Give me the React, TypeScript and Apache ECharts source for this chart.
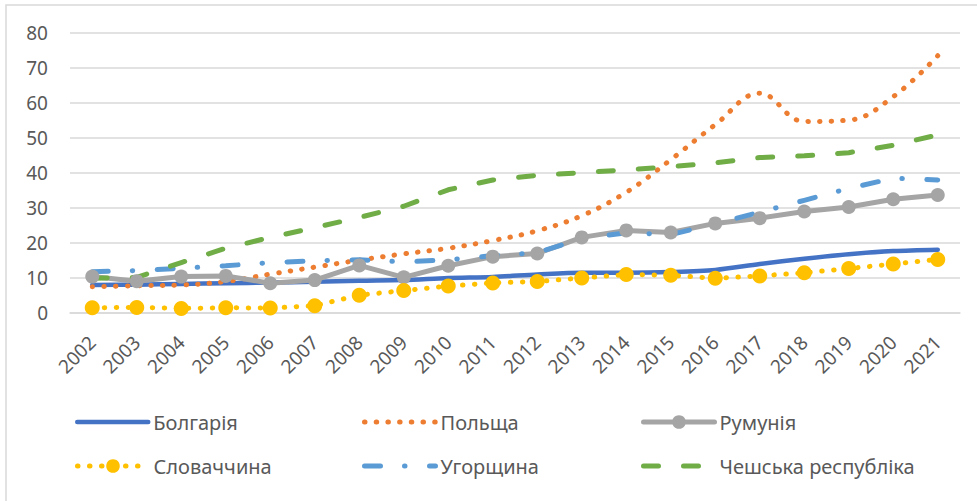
import React, { useEffect, useRef } from "react";
import * as echarts from "echarts";

const years = ["2002","2003","2004","2005","2006","2007","2008","2009","2010","2011","2012","2013","2014","2015","2016","2017","2018","2019","2020","2021"];
const bulgaria = [8.0, 8.1, 8.3, 8.5, 8.7, 8.9, 9.2, 9.4, 10.0, 10.3, 11.0, 11.5, 11.5, 11.7, 12.3, 14.0, 15.5, 16.8, 17.7, 18.1];
const poland = [7.5, 7.8, 8.0, 9.0, 11.1, 13.1, 15.1, 16.9, 18.5, 20.7, 23.5, 27.8, 34.5, 43.8, 53.8, 62.8, 54.7, 55.1, 61.8, 73.5];
const romania = [10.4, 9.1, 10.4, 10.6, 8.5, 9.4, 13.6, 10.2, 13.5, 16.1, 17.0, 21.6, 23.6, 23.0, 25.6, 27.1, 29.0, 30.3, 32.5, 33.7];
const slovakia = [1.5, 1.6, 1.3, 1.5, 1.4, 2.1, 5.1, 6.4, 7.7, 8.6, 9.0, 10.0, 11.0, 10.8, 9.9, 10.6, 11.5, 12.7, 14.0, 15.3];
const hungary = [11.8, 12.1, 12.8, 13.5, 14.4, 14.9, 15.2, 14.6, 15.2, 16.4, 17.2, 21.3, 22.9, 22.4, 25.5, 28.8, 32.2, 35.6, 38.5, 38.0];
const czech = [9.9, 10.2, 14.4, 18.5, 21.6, 24.4, 27.3, 30.5, 35.2, 38.0, 39.3, 40.1, 40.9, 41.8, 42.9, 44.4, 44.9, 45.8, 47.9, 50.9];
const yTicks = [0, 10, 20, 30, 40, 50, 60, 70, 80];

const names = ["Болгарія", "Польща", "Румунія", "Словаччина", "Угорщина", "Чешська республіка"];
const hasMarker = [false, false, true, true, false, false];
const legendWidths = [4.5, 5, 5, 5, 5, 5];

export default function App() {
  const ref = useRef<HTMLDivElement>(null);
  useEffect(() => {
    if (!ref.current) return;
    const chart = echarts.init(ref.current, undefined, { renderer: "svg" });
    const font = "'Noto Sans', 'Open Sans', sans-serif";
    const txt = "#595959";
    const legendPos = [
      [75, 412], [362, 412], [641, 412],
      [75, 456], [362, 456], [641, 456],
    ];
    chart.setOption({
      animation: false,
      backgroundColor: "#ffffff",
      textStyle: { fontFamily: font },
      grid: { left: 70, right: 17, top: 33, bottom: 188, containLabel: false },
      graphic: [
        {
          type: "rect",
          shape: { x: 6, y: 5, width: 1000, height: 1000 },
          style: { fill: "none", stroke: "#d9d9d9", lineWidth: 1.5 },
          silent: true,
        },
      ],
      legend: names.map((n, i) => ({
        data: [n],
        left: legendPos[i][0],
        top: legendPos[i][1],
        padding: 0,
        itemWidth: 71,
        itemHeight: 17,
        selectedMode: false,
        itemStyle: hasMarker[i] ? {} : { opacity: 0 },
        lineStyle: { width: legendWidths[i] },
        textStyle: { fontFamily: font, fontSize: 20, color: txt, padding: [0, 0, 0, 0] },
      })),
      xAxis: {
        type: "category",
        data: years,
        boundaryGap: true,
        axisLine: { show: true, lineStyle: { color: "#d9d9d9", width: 1.5 } },
        axisTick: { show: false },
        axisLabel: { rotate: 45, fontSize: 19, color: txt, margin: 26, fontFamily: font, interval: 0 },
        splitLine: { show: false },
      },
      yAxis: {
        type: "value",
        min: yTicks[0],
        max: yTicks[yTicks.length - 1],
        interval: 10,
        axisLine: { show: false },
        axisTick: { show: false },
        axisLabel: { fontSize: 19, color: txt, margin: 22, fontFamily: font },
        splitLine: { lineStyle: { color: "#d9d9d9", width: 1.5 } },
      },
      series: [
        {
          name: names[0], type: "line", data: bulgaria, smooth: 0.3, symbol: "none",
          lineStyle: { color: "#4472C4", width: 4.5, cap: "round" },
          itemStyle: { color: "#4472C4" },
        },
        {
          name: names[1], type: "line", data: poland, smooth: 0.4, symbol: "none",
          lineStyle: { color: "#ED7D31", width: 5, type: [0.5, 11.2], cap: "round" },
          itemStyle: { color: "#ED7D31" },
        },
        {
          name: names[2], type: "line", data: romania, symbol: "circle", symbolSize: 14,
          lineStyle: { color: "#A5A5A5", width: 5, cap: "round" },
          itemStyle: { color: "#A5A5A5" },
        },
        {
          name: names[3], type: "line", data: slovakia, symbol: "circle", symbolSize: 15,
          lineStyle: { color: "#FFC000", width: 5, type: [0.5, 11.5], cap: "round" },
          itemStyle: { color: "#FFC000" },
        },
        {
          name: names[4], type: "line", data: hungary, symbol: "none",
          lineStyle: { color: "#5B9BD5", width: 5, type: [16, 24, 0.5, 24.5], cap: "round" },
          itemStyle: { color: "#5B9BD5" },
        },
        {
          name: names[5], type: "line", data: czech, symbol: "none",
          lineStyle: { color: "#70AD47", width: 5, type: [15, 25], cap: "round" },
          itemStyle: { color: "#70AD47" },
        },
      ],
    });
    return () => chart.dispose();
  }, []);
  return <div ref={ref} style={{ width: 977, height: 501, position: "absolute", left: 0, top: 0 }} />;
}
